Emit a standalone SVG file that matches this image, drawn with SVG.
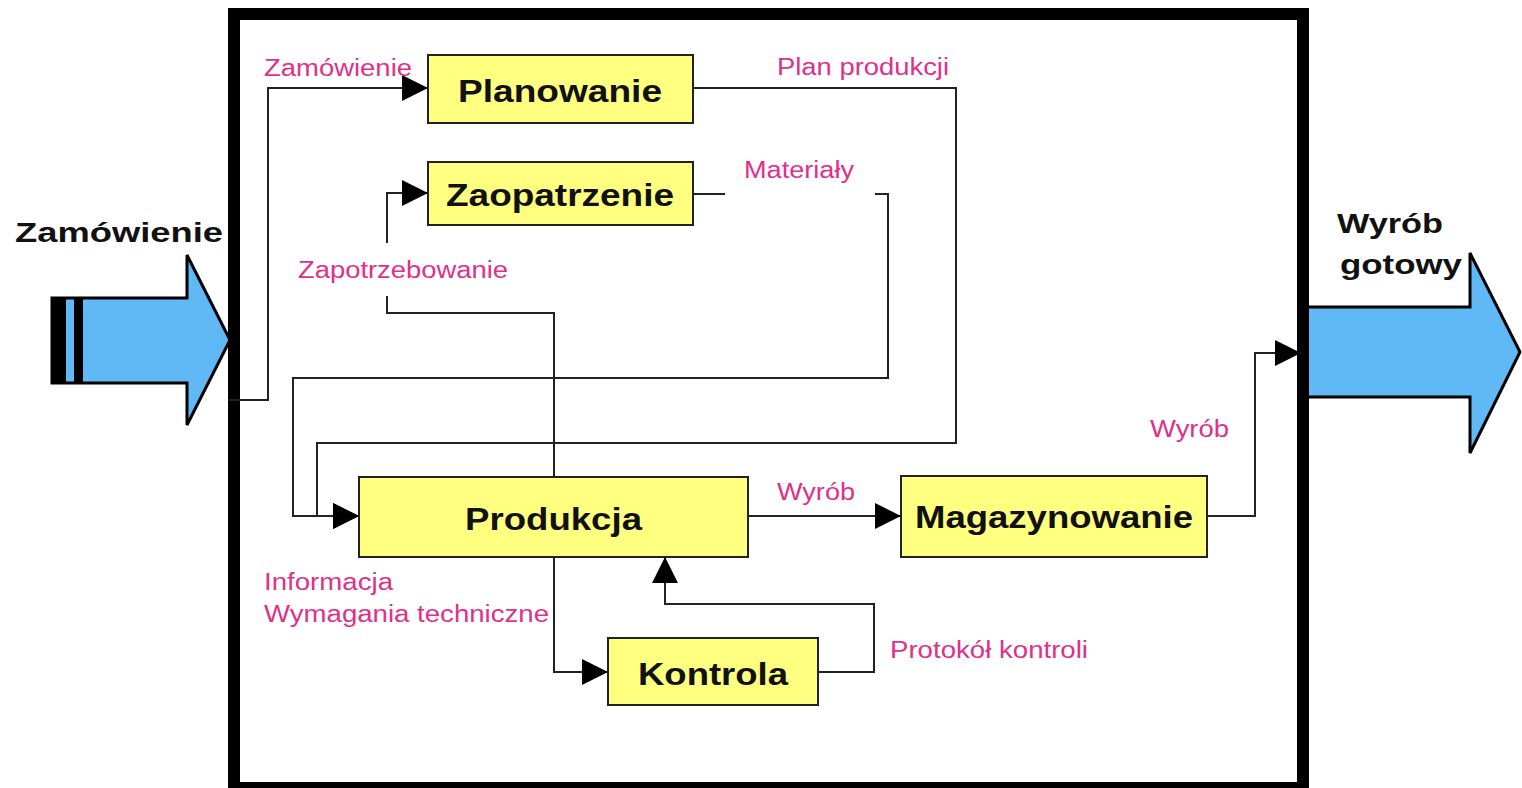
<svg xmlns="http://www.w3.org/2000/svg" width="1522" height="788" viewBox="0 0 1522 788">
  <style>
    .box { fill: #FFFF80; stroke: #222; stroke-width: 2; }
    .node-label { font-family: "Liberation Sans", Arial, sans-serif; font-weight: bold; font-size: 32px; fill: #111; }
    .flow-label { font-family: "Liberation Sans", Arial, sans-serif; font-size: 23px; fill: #E0308A; }
    .io-label { font-family: "Liberation Sans", Arial, sans-serif; font-weight: bold; font-size: 27px; fill: #111; }
    .wire { fill: none; stroke: #222; stroke-width: 2; }
    .big-arrow { fill: #60B8F4; stroke: #000; stroke-width: 3; stroke-linejoin: miter; }
  </style>
  <defs>
    <marker id="head" markerUnits="userSpaceOnUse" markerWidth="27" markerHeight="28" refX="26" refY="13" orient="auto">
      <path d="M0,0 L26,13 L0,26 z" fill="#000"/>
    </marker>
  </defs>

  <rect width="1522" height="788" fill="#fff"/>

  <!-- input / output arrows -->
  <g id="input-arrow">
    <polygon class="big-arrow" points="52,298 187,298 187,255 230,340 187,425 187,383 52,383"/>
    <rect x="52" y="298" width="14" height="85" fill="#000"/>
    <rect x="74" y="298" width="9" height="85" fill="#000"/>
    <text class="io-label" x="15" y="242" textLength="208" lengthAdjust="spacingAndGlyphs">Zamówienie</text>
  </g>
  <g id="output-arrow">
    <polygon class="big-arrow" points="1300,307 1470,307 1470,253 1520,352 1470,453 1470,397 1300,397"/>
    <text class="io-label" x="1337" y="233" textLength="106" lengthAdjust="spacingAndGlyphs">Wyrób</text>
    <text class="io-label" x="1340" y="274" textLength="122" lengthAdjust="spacingAndGlyphs">gotowy</text>
  </g>

  <!-- enterprise boundary -->
  <rect id="frame" x="234" y="14" width="1069" height="774" fill="none" stroke="#000" stroke-width="12"/>

  <!-- connectors -->
  <g id="connectors">
    <polyline class="wire" points="229,400 268,400 268,88 428,88" marker-end="url(#head)"/>
    <polyline class="wire" points="693,88 956,88 956,443 317,443 317,516 359,516" marker-end="url(#head)"/>
    <line class="wire" x1="693" y1="194" x2="725" y2="194"/>
    <polyline class="wire" points="875,194 888,194 888,378 293,378 293,516 359,516" marker-end="url(#head)"/>
    <polyline class="wire" points="554,477 554,313 387,313 387,296"/>
    <polyline class="wire" points="387,243 387,193 428,193" marker-end="url(#head)"/>
    <polyline class="wire" points="554,557 554,672 608,672" marker-end="url(#head)"/>
    <polyline class="wire" points="818,672 874,672 874,604 665,604 665,557" marker-end="url(#head)"/>
    <line class="wire" x1="748" y1="516" x2="901" y2="516" marker-end="url(#head)"/>
    <polyline class="wire" points="1207,516 1255,516 1255,353 1301,353" marker-end="url(#head)"/>

    <text class="flow-label" x="264" y="76" textLength="148" lengthAdjust="spacingAndGlyphs">Zamówienie</text>
    <text class="flow-label" x="777" y="75" textLength="172" lengthAdjust="spacingAndGlyphs">Plan produkcji</text>
    <text class="flow-label" x="744" y="178" textLength="110" lengthAdjust="spacingAndGlyphs">Materiały</text>
    <text class="flow-label" x="298" y="278" textLength="210" lengthAdjust="spacingAndGlyphs">Zapotrzebowanie</text>
    <text class="flow-label" x="264" y="590" textLength="129" lengthAdjust="spacingAndGlyphs">Informacja</text>
    <text class="flow-label" x="264" y="622" textLength="285" lengthAdjust="spacingAndGlyphs">Wymagania techniczne</text>
    <text class="flow-label" x="890" y="658" textLength="198" lengthAdjust="spacingAndGlyphs">Protokół kontroli</text>
    <text class="flow-label" x="777" y="500" textLength="78" lengthAdjust="spacingAndGlyphs">Wyrób</text>
    <text class="flow-label" x="1150" y="437" textLength="79" lengthAdjust="spacingAndGlyphs">Wyrób</text>
  </g>

  <!-- process nodes -->
  <g id="planowanie">
    <rect class="box" x="428" y="55" width="265" height="68"/>
    <text class="node-label" x="458" y="102" textLength="204" lengthAdjust="spacingAndGlyphs">Planowanie</text>
  </g>
  <g id="zaopatrzenie">
    <rect class="box" x="428" y="162" width="265" height="63"/>
    <text class="node-label" x="446" y="206" textLength="228" lengthAdjust="spacingAndGlyphs">Zaopatrzenie</text>
  </g>
  <g id="produkcja">
    <rect class="box" x="359" y="477" width="389" height="80"/>
    <text class="node-label" x="465" y="530" textLength="177" lengthAdjust="spacingAndGlyphs">Produkcja</text>
  </g>
  <g id="magazynowanie">
    <rect class="box" x="901" y="476" width="306" height="81"/>
    <text class="node-label" x="915" y="528" textLength="278" lengthAdjust="spacingAndGlyphs">Magazynowanie</text>
  </g>
  <g id="kontrola">
    <rect class="box" x="608" y="638" width="210" height="67"/>
    <text class="node-label" x="638" y="685" textLength="150" lengthAdjust="spacingAndGlyphs">Kontrola</text>
  </g>
</svg>
